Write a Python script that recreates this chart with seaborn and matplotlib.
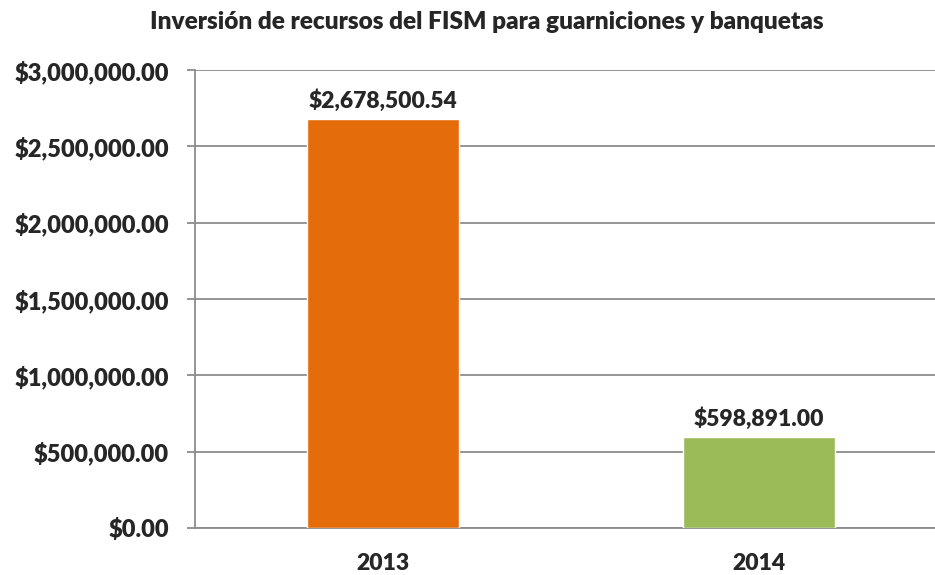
import matplotlib
matplotlib.use("Agg")
import matplotlib.pyplot as plt
import seaborn as sns
import pandas as pd
from matplotlib.ticker import FuncFormatter

# datos
anios = ["2013", "2014"]
montos = [2678500.54, 598891.00]
colores = ["#E46C0A", "#9BBB59"]
titulo = "Inversión de recursos del FISM para guarniciones y banquetas"

sns.set_theme(style="white")
plt.rcParams['font.family'] = ['Lato', 'DejaVu Sans']
peso = "heavy"

df = pd.DataFrame({"anio": anios, "monto": montos})

fig = plt.figure(figsize=(9.35, 5.75), dpi=100)
ax = fig.add_axes([195 / 935, 1 - 528 / 575, 1 - 195 / 935, (528 - 70) / 575])

sns.barplot(data=df, x="anio", y="monto", hue="anio", palette=colores,
            width=0.404, legend=False, ax=ax, zorder=3, saturation=1)

ax.set_xlim(-0.5, 1.468)
ax.set_ylim(0, 3000000)
ax.set_yticks(range(0, 3000001, 500000))
ax.yaxis.set_major_formatter(FuncFormatter(lambda v, p: f"${v:,.2f}"))
ax.grid(axis="y", color="#8C8C8C", linewidth=1.3, zorder=0)

for s in ["top", "right"]:
    ax.spines[s].set_visible(False)
for s in ["left", "bottom"]:
    ax.spines[s].set_color("#8C8C8C")
    ax.spines[s].set_linewidth(1.3)

ax.tick_params(axis="y", which="major", left=True, length=5.8, width=1.3,
               color="#8C8C8C", labelsize=17, pad=13)
ax.tick_params(axis="x", bottom=False, labelsize=16.5, pad=12)
for lbl in ax.get_yticklabels() + ax.get_xticklabels():
    lbl.set_fontweight(peso)

ax.set_xlabel("")
ax.set_ylabel("")

# etiquetas de valor encima de cada barra
for i, v in enumerate(montos):
    ax.annotate(f"${v:,.2f}", (i, v), xytext=(0, 5), textcoords="offset points",
                ha="center", va="bottom", fontsize=16.5, fontweight=peso)

fig.text(487 / 935, 1 - 22 / 575, titulo, ha="center", va="center",
         fontsize=17.6, fontweight=peso)

fig.savefig("out.png", dpi=100)
